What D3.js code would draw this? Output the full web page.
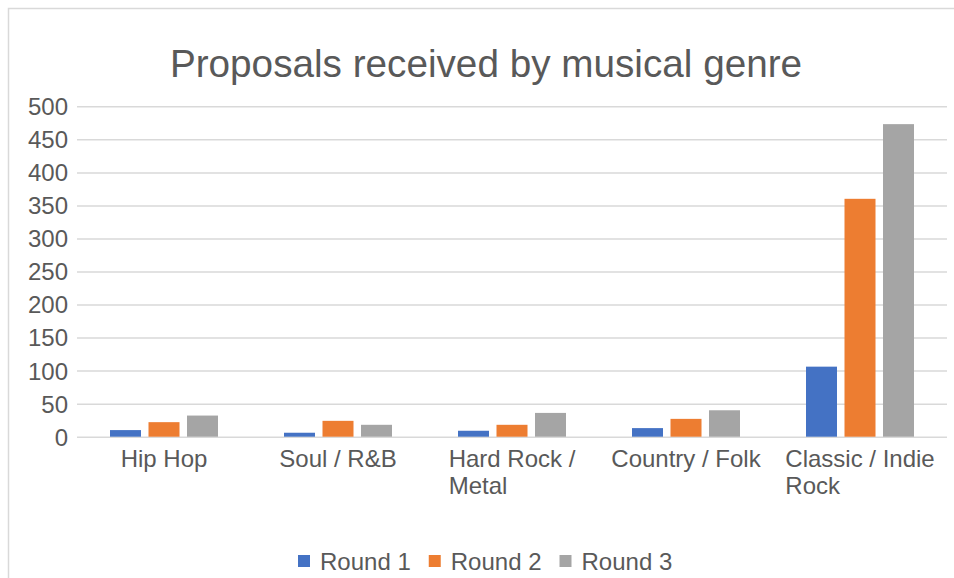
<!DOCTYPE html>
<html>
<head>
<meta charset="utf-8">
<script src="https://cdn.jsdelivr.net/npm/d3@7"></script>
<style>
  html, body { margin: 0; padding: 0; background: #fff; }
  svg { display: block; font-family: "Liberation Sans", Arial, sans-serif; }
</style>
</head>
<body>
<svg id="chart" width="954" height="578"></svg>
<script>
const categories = ["Hip Hop", "Soul / R&B", "Hard Rock / Metal", "Country / Folk", "Classic / Indie Rock"];
const seriesNames = ["Round 1", "Round 2", "Round 3"];
const round1 = [10, 6, 9, 13, 106];
const round2 = [22, 24, 18, 27, 360];
const round3 = [32, 18, 36, 40, 473];
const yTicks = [0, 50, 100, 150, 200, 250, 300, 350, 400, 450, 500];
const colors = ["#4472c4", "#ed7d31", "#a5a5a5"];
const title = "Proposals received by musical genre";

const series = [round1, round2, round3];
const svg = d3.select("#chart");
const W = 954, H = 578;
const textColor = "#595959";
const gridColor = "#d9d9d9";

// chart border
svg.append("rect").attr("x", 8.5).attr("y", 8.5).attr("width", W + 10).attr("height", H + 10)
  .attr("fill", "#fff").attr("stroke", gridColor).attr("stroke-width", 1.5);

const plot = { left: 77, right: 947, top: 106.3, bottom: 436.7 };

const x = d3.scaleBand().domain(categories).range([plot.left, plot.right]).paddingInner(0).paddingOuter(0);
const y = d3.scaleLinear().domain([0, 500]).range([plot.bottom, plot.top]);

// title
svg.append("text").attr("x", 486).attr("y", 77).attr("text-anchor", "middle")
  .attr("font-size", 38.7).attr("fill", textColor).text(title);

// gridlines
const yAxis = d3.axisLeft(y).tickValues(yTicks).tickSize(-(plot.right - plot.left)).tickPadding(9).tickFormat(d3.format("d"));
const gy = svg.append("g").attr("transform", `translate(${plot.left},0)`).call(yAxis);
gy.select(".domain").remove();
gy.selectAll(".tick line").attr("stroke", gridColor).attr("stroke-width", 1.5);
gy.selectAll(".tick text").attr("fill", textColor).attr("font-size", 24)
  .attr("font-family", "'Liberation Sans', Arial, sans-serif").attr("dy", "0.35em");

// bars
const band = x.bandwidth();
const barW = band * 31 / 174;
const barStep = band * 38.5 / 174;
const groupW = barW + 2 * barStep;
series.forEach((vals, si) => {
  svg.append("g").selectAll("rect").data(vals).join("rect")
    .attr("x", (d, i) => x(categories[i]) + band / 2 - groupW / 2 + si * barStep)
    .attr("y", d => y(d))
    .attr("width", barW)
    .attr("height", d => y(0) - y(d))
    .attr("fill", colors[si]);
});

// category labels with wrapping
const wrapWidth = 165;
const catG = svg.append("g").attr("font-size", 24).attr("fill", textColor);
categories.forEach(cat => {
  const words = cat.split(" ");
  const t = catG.append("text").attr("y", 467);
  const lines = [];
  let line = [];
  const measure = catG.append("text").attr("visibility", "hidden");
  words.forEach(w => {
    const test = line.concat([w]).join(" ");
    measure.text(test);
    if (measure.node().getComputedTextLength() > wrapWidth && line.length) {
      lines.push(line.join(" "));
      line = [w];
    } else {
      line.push(w);
    }
  });
  if (line.length) lines.push(line.join(" "));
  let maxW = 0;
  lines.forEach(l => { measure.text(l); maxW = Math.max(maxW, measure.node().getComputedTextLength()); });
  measure.remove();
  const cx = x(cat) + band / 2;
  const left = cx - maxW / 2;
  lines.forEach((l, i) => {
    t.append("tspan").attr("x", left).attr("y", 467 + i * 27).text(l);
  });
});

// legend
const legend = svg.append("g").attr("font-size", 24).attr("fill", textColor);
let lx = 298;
seriesNames.forEach((name, i) => {
  legend.append("rect").attr("x", lx).attr("y", 555).attr("width", 12).attr("height", 12).attr("fill", colors[i]);
  const tx = legend.append("text").attr("x", lx + 22).attr("y", 569.5).text(name);
  lx += 22 + tx.node().getComputedTextLength() + 18;
});
</script>
</body>
</html>
